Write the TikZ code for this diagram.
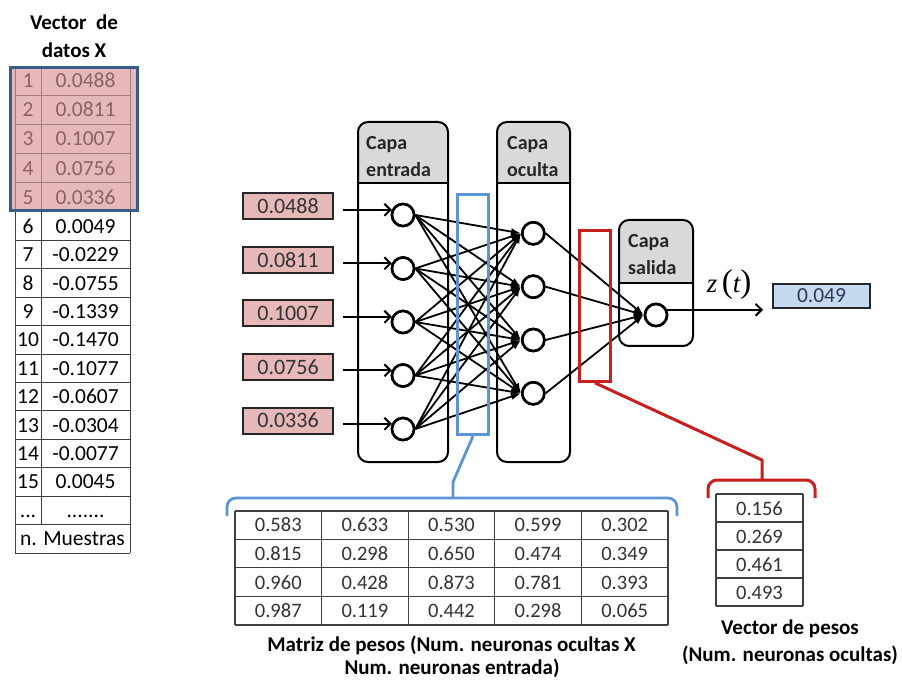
\documentclass[tikz,border=0pt]{standalone}
\usepackage{fontspec}
\setmainfont{Carlito}
\newfontfamily\libserif{Liberation Serif}
\usetikzlibrary{arrows.meta,calc}
\definecolor{pinkfill}{HTML}{E6B9B8}
\definecolor{pinkline}{HTML}{A07C7B}
\definecolor{pinktext}{HTML}{8A6464}
\definecolor{xblue}{HTML}{385D8A}
\definecolor{hlblue}{HTML}{5B95D6}
\definecolor{hlred}{HTML}{C81E1E}
\definecolor{hdrgray}{HTML}{D9D9D9}
\definecolor{outfill}{HTML}{C6D9F1}
\definecolor{outtext}{HTML}{2B3A55}
\definecolor{darktext}{HTML}{333333}
\definecolor{gridline}{HTML}{404040}

\begin{document}
\begin{tikzpicture}[x=1pt,y=-1pt,
  cell/.style={inner sep=0pt, anchor=base, font=\fontsize{21.5}{24}\selectfont},
  mcell/.style={inner sep=0pt, anchor=base, font=\fontsize{20.5}{24}\selectfont, text=darktext},
  caption/.style={inner sep=0pt, anchor=base, font=\bfseries\fontsize{21}{24}\selectfont},
  hdrtext/.style={inner sep=0pt, anchor=base west, font=\bfseries\fontsize{20}{24}\selectfont, text=black!85},
  layerbox/.style={draw, line width=2pt, rounded corners=10pt, inner sep=0pt},
  neuron/.style={circle, draw, line width=2.6pt, fill=white, minimum size=22pt, inner sep=0pt},
  inbox/.style={draw=black!85, line width=2pt, fill=pinkfill, minimum width=90pt, minimum height=26pt,
                inner sep=0pt, font=\fontsize{22}{24}\selectfont, text=darktext},
  conn/.style={line width=1.8pt, -{Latex[length=10pt,width=7pt]}},
  feed/.style={line width=2pt, -{Straight Barb[length=6pt,width=12pt]}},
  hlbox/.style={line width=2.8pt, inner sep=0pt},
]
\useasboundingbox (0,0) rectangle (902,684);
\fill[white] (0,0) rectangle (902,684);

% ---------------- data vector X ----------------
\node[caption] (ttl1) at (74,30) {Vector\ \ de};
\node[caption] (ttl2) at (74,58) {datos X};

\fill[pinkfill] (9,66) rectangle (139,212);
% grid of the first five samples
\foreach \i in {1,...,4} \draw[pinkline, line width=1pt] (15,{66+29.2*\i}) -- (130,{66+29.2*\i});
\draw[pinkline, line width=1pt] (15,66) -- (15,212) (41,66) -- (41,212) (130,66) -- (130,212);
% grid of the remaining samples
\foreach \j in {0,...,12} \draw[gridline, line width=1pt] (15,{212+28.42*\j}) -- (130,{212+28.42*\j});
\draw[gridline, line width=1pt] (15,212) -- (15,553) (130,212) -- (130,553) (41,212) -- (41,{212+28.42*11});

\foreach \v [count=\i] in {0.0488,0.0811,0.1007,0.0756,0.0336} {
  \node[cell, text=pinktext] (xn\i) at (28,{66+29.2*(\i-0.5)+7}) {\i};
  \node[cell, text=pinktext] (xv\i) at (85.5,{66+29.2*(\i-0.5)+7}) {\v};
}
\foreach \n/\v [count=\j] in {6/0.0049,7/-0.0229,8/-0.0755,9/-0.1339,10/-0.1470,11/-0.1077,
                               12/-0.0607,13/-0.0304,14/-0.0077,15/0.0045} {
  \node[cell] (yn\j) at (28,{212+28.42*(\j-0.5)+7}) {\n};
  \node[cell] (yv\j) at (85.5,{212+28.42*(\j-0.5)+7}) {\v};
}
\node[cell] (yn11) at (28,{212+28.42*10.5+7}) {...};
\node[cell] (yv11) at (85.5,{212+28.42*10.5+7}) {.......};
\node[cell] (nmu) at (72.5,{212+28.42*11.5+7}) {n. Muestras};
\draw[xblue, line width=3pt] (10.5,67.5) rectangle (137.5,210.5);

% ---------------- layer frames ----------------
\begin{scope}
  \clip[rounded corners=10pt] (358,122) rectangle (448,462);
  \fill[hdrgray] (358,122) rectangle (448,183);
\end{scope}
\begin{scope}
  \clip[rounded corners=10pt] (497,122) rectangle (570,462);
  \fill[hdrgray] (497,122) rectangle (570,183);
\end{scope}
\begin{scope}
  \clip[rounded corners=10pt] (619,220) rectangle (693,346);
  \fill[hdrgray] (619,220) rectangle (693,283);
\end{scope}
\node[layerbox, minimum width=90pt, minimum height=340pt] (Lin) at (403,292) {};
\node[layerbox, minimum width=73pt, minimum height=340pt] (Lhid) at (533.5,292) {};
\node[layerbox, minimum width=74pt, minimum height=126pt] (Lout) at (656,283) {};
\draw[line width=1.6pt] (Lin.west |- 0,183) -- (Lin.east |- 0,183);
\draw[line width=1.6pt] (Lhid.west |- 0,183) -- (Lhid.east |- 0,183);
\draw[line width=1.6pt] (Lout.west |- 0,283) -- (Lout.east |- 0,283);
\node[hdrtext] (hin1) at (366,150) {Capa};
\node[hdrtext] (hin2) at (366,177) {entrada};
\node[hdrtext] (hhd1) at (507,150) {Capa};
\node[hdrtext] (hhd2) at (507,177) {oculta};
\node[hdrtext] (hot1) at (628,248) {Capa};
\node[hdrtext] (hot2) at (628,275) {salida};

% ---------------- neurons ----------------
\foreach \y [count=\i] in {215,268.5,322,375.5,429} {
  \node[neuron] (n\i) at (403,\y) {};
  \node[inbox] (b\i) at (288,\y-8.5) {};
}
\node[darktext, font=\fontsize{22}{24}\selectfont, inner sep=0pt] at (b1) {0.0488};
\node[darktext, font=\fontsize{22}{24}\selectfont, inner sep=0pt] at (b2) {0.0811};
\node[darktext, font=\fontsize{22}{24}\selectfont, inner sep=0pt] at (b3) {0.1007};
\node[darktext, font=\fontsize{22}{24}\selectfont, inner sep=0pt] at (b4) {0.0756};
\node[darktext, font=\fontsize{22}{24}\selectfont, inner sep=0pt] at (b5) {0.0336};
\foreach \y [count=\j] in {233.3,286.7,340,393.3} \node[neuron] (h\j) at (533.3,\y) {};
\node[neuron] (o) at (656,315) {};

% inputs
\foreach \i in {1,...,5} \draw[feed] ($(b\i.east |- n\i.155)+(9,0)$) -- (n\i.155);
% input -> hidden
\foreach \i in {1,...,5} \foreach \j in {1,...,4} \draw[conn] (n\i.east) -- (h\j.west);
% hidden -> output
\foreach \j in {1,...,4} \draw[conn] (h\j.east) -- (o.west);
\foreach \i in {1,...,5} \node[neuron] at (n\i) {};
\foreach \j in {1,...,4} \node[neuron] at (h\j) {};
\node[neuron] at (o) {};

% output value
\node[draw=black!85, line width=2pt, fill=outfill, minimum width=97pt, minimum height=24pt, inner sep=0pt,
      font=\fontsize{21.5}{24}\selectfont, text=outtext] (res) at (821.5,296) {0.049};
\draw[feed, shorten >=9pt] (o.25) -- (o.25 -| res.west);
\node[inner sep=0pt, anchor=base, font=\libserif\fontsize{27}{30}\selectfont] (zt) at (729,293)
  {\itshape z\,{\upshape\fontsize{33}{33}\selectfont(}t{\upshape\fontsize{33}{33}\selectfont)}};

% ---------------- weight highlights ----------------
\node[hlbox, draw=hlblue, minimum width=31.5pt, minimum height=240.5pt] (hlw) at (473,314.5) {};
\node[hlbox, draw=hlred, minimum width=31pt, minimum height=151pt] (hlv) at (595,306) {};

\coordinate (mtip) at (453,498);
\coordinate (vtip) at (762,480);
\draw[hlblue, line width=2.8pt, line join=round] (hlw.south) -- (453,482) -- (mtip);
\draw[hlblue, line width=2.8pt, rounded corners=9pt] (227,516) -- (227,498) -- (677,498) -- (677,516);
\draw[hlred, line width=3pt, line join=round] (hlv.south) -- (762,460) -- (vtip);
\draw[hlred, line width=3pt, rounded corners=9pt] (708,498) -- (708,480) -- (815,480) -- (815,498);

% ---------------- weight matrix ----------------
\foreach \k in {1,...,4} \draw[gridline, line width=1.2pt] (235,{510.7+28.57*\k}) -- (668,{510.7+28.57*\k});
\foreach \k in {0,...,5} \draw[gridline, line width=1.2pt] ({235+86.6*\k},510.7) -- ({235+86.6*\k},625);
\draw[gridline, line width=2.4pt] (235,510.7) -- (668,510.7);
\foreach \row [count=\r] in {{0.583,0.633,0.530,0.599,0.302},{0.815,0.298,0.650,0.474,0.349},
                             {0.960,0.428,0.873,0.781,0.393},{0.987,0.119,0.442,0.298,0.065}} {
  \foreach \v [count=\c] in \row
    \node[mcell] (m\r\c) at ({235+86.6*(\c-0.5)},{510.7+28.57*(\r-0.5)+7}) {\v};
}
\node[caption] (mc1) at (451.5,651) {Matriz de pesos (Num. neuronas ocultas X};
\node[caption] (mc2) at (452,674) {Num. neuronas entrada)};

% ---------------- weight vector ----------------
\foreach \k in {1,...,4} \draw[gridline, line width=1.2pt] (716,{494+28*\k}) -- (803,{494+28*\k});
\draw[gridline, line width=1.2pt] (716,494) -- (716,606) (803,494) -- (803,606);
\draw[gridline, line width=2.4pt] (716,494) -- (803,494);
\foreach \v [count=\r] in {0.156,0.269,0.461,0.493}
  \node[mcell] (w\r) at (759.5,{494+28*(\r-0.5)+7}) {\v};
\node[caption] (vc1) at (790,634) {Vector de pesos};
\node[caption] (vc2) at (790,661) {(Num. neuronas ocultas)};
\end{tikzpicture}
\end{document}
